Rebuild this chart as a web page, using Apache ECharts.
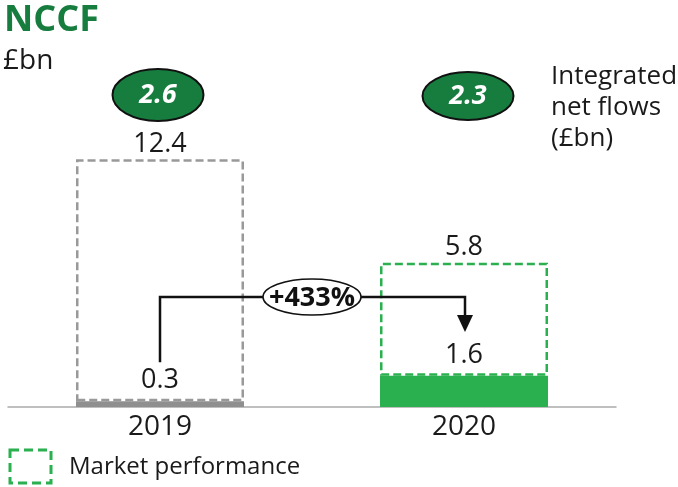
<!DOCTYPE html>
<html>
<head>
<meta charset="utf-8">
<script src="https://cdn.jsdelivr.net/npm/echarts@6/dist/echarts.min.js"></script>
<style>
  html, body { margin: 0; padding: 0; background: #fff; }
  #chart { width: 678px; height: 487px; }
</style>
</head>
<body>
<div id="chart"></div>
<script>
// NCCF by year, £bn
const years = ['2019', '2020'];
const nccf = [0.3, 1.6];
const marketPerformance = [12.4, 5.8];
const integratedNetFlows = ['2.6', '2.3'];
const changeLabel = '+433%';

const FONT = '"Open Sans", "DejaVu Sans", sans-serif';
const GREY = '#999999';
const GREY_SOLID = '#8f8f8f';
const GREEN = '#2bb04f';
const DARK_GREEN = '#177d3f';

const chart = echarts.init(document.getElementById('chart'));

const solidColors = [GREY_SOLID, GREEN];
const dashColors = [GREY, GREEN];

chart.setOption({
  animation: false,
  grid: { left: 8, right: 62, top: 134, bottom: 80 },
  xAxis: {
    type: 'category',
    data: years,
    axisLine: { lineStyle: { color: '#aaaaaa', width: 1.5 } },
    axisTick: { show: false },
    axisLabel: { color: '#1a1a1a', fontFamily: FONT, fontSize: 28, margin: 6 }
  },
  yAxis: {
    type: 'value', min: 0, max: 14,
    show: false, splitLine: { show: false }
  },
  series: [
    {
      name: 'NCCF',
      type: 'bar',
      stack: 'total',
      barWidth: 168,
      z: 3,
      data: nccf.map((v, i) => ({ value: v, itemStyle: { color: solidColors[i] } })),
      label: {
        show: true, position: 'top', distance: 7,
        color: '#1a1a1a', fontFamily: FONT, fontSize: 27
      }
    },
    {
      name: 'Market performance',
      type: 'bar',
      stack: 'total',
      barWidth: 168,
      z: 2,
      data: marketPerformance.map((v, i) => ({
        value: v,
        itemStyle: {
          color: 'rgba(0,0,0,0)',
          borderColor: dashColors[i],
          borderWidth: 2.5,
          borderType: [8, 4]
        }
      })),
      label: {
        show: true, position: 'top', distance: 2,
        color: '#1a1a1a', fontFamily: FONT, fontSize: 27
      }
    }
  ]
});

// Annotations positioned from the chart's own scales
function px(cat, val) {
  return chart.convertToPixel({ gridIndex: 0 }, [cat, val]);
}
const cx = [px(years[0], 0)[0], px(years[1], 0)[0]];

const elements = [
  // title
  { type: 'text', left: 4, top: 3, style: { text: 'NCCF', fill: DARK_GREEN, font: 'bold 36px ' + FONT } },
  { type: 'text', left: 3, top: 47, style: { text: '£bn', fill: '#1a1a1a', font: '28px ' + FONT } },
  // explanation of the ovals
  { type: 'text', left: 551, top: 61, style: { text: 'Integrated\nnet flows\n(£bn)', fill: '#1a1a1a', font: '26px ' + FONT, lineHeight: 31 } }
];

// integrated net flow ovals above each bar
[[0, 95, 26, -2], [1, 96, 24, 4]].forEach(([i, cy, ry, dx]) => {
  elements.push({
    type: 'ellipse',
    shape: { cx: cx[i] + dx, cy: cy, rx: 45.5, ry: ry },
    style: { fill: DARK_GREEN, stroke: '#111', lineWidth: 2 },
    z: 10
  });
  elements.push({
    type: 'text',
    x: cx[i] + dx, y: cy,
    style: {
      text: integratedNetFlows[i], fill: '#fff',
      font: 'italic bold 27px ' + FONT, textAlign: 'center', textVerticalAlign: 'middle'
    },
    z: 11
  });
});

// change connector: from 2019 label up, across, down to 2020 with arrowhead
const yTop = 297;
const yStart = px(years[0], 2.3)[1];
const yArrowTip = 332;
const ax = cx[1] + 1;
elements.push({
  type: 'polyline',
  shape: { points: [[cx[0], yStart], [cx[0], yTop], [ax, yTop], [ax, yArrowTip - 14]] },
  style: { stroke: '#111', lineWidth: 2.5, fill: null },
  z: 10
});
elements.push({
  type: 'polygon',
  shape: { points: [[ax - 8, yArrowTip - 17], [ax + 8, yArrowTip - 17], [ax, yArrowTip]] },
  style: { fill: '#111' },
  z: 10
});
const midX = (cx[0] + cx[1]) / 2;
elements.push({
  type: 'ellipse',
  shape: { cx: midX, cy: yTop, rx: 49, ry: 18 },
  style: { fill: '#fff', stroke: '#111', lineWidth: 1.5 },
  z: 12
});
elements.push({
  type: 'text', x: midX, y: yTop + 1,
  style: { text: changeLabel, fill: '#111', font: 'bold 27px ' + FONT, textAlign: 'center', textVerticalAlign: 'middle' },
  z: 13
});

// legend key
elements.push({
  type: 'rect',
  shape: { x: 10, y: 450, width: 41, height: 33 },
  style: { fill: null, stroke: GREEN, lineWidth: 3, lineDash: [9, 5] },
  z: 10
});
elements.push({
  type: 'text', left: 69, top: 455,
  style: { text: 'Market performance', fill: '#1a1a1a', font: '24px ' + FONT },
  z: 10
});

chart.setOption({ graphic: { elements: elements } });
</script>
</body>
</html>
